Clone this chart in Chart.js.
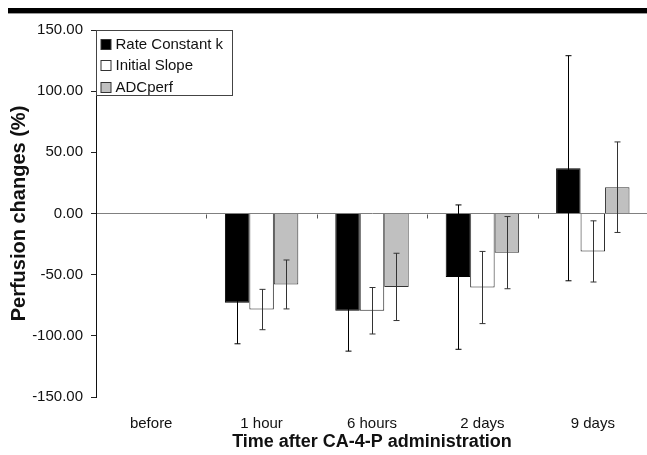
<!DOCTYPE html>
<html>
<head>
<meta charset="utf-8">
<script src="https://cdn.jsdelivr.net/npm/chart.js@4"></script>
<style>
  html, body { margin: 0; padding: 0; background: #fff; overflow: hidden; }
  #wrap { position: relative; width: 647px; height: 455px; overflow: hidden; }
  #band { position: absolute; left: 8px; top: 8px; width: 645px; height: 5px; background: #000; border-bottom: 1px solid #999; }
  canvas { position: absolute; left: 0; top: 0; }
</style>
</head>
<body>
<div id="wrap">
  <canvas id="chart" width="650" height="455"></canvas>
  <div id="band"></div>
</div>
<script>
// categories and series (perfusion change, %)
const categories = ['before', '1 hour', '6 hours', '2 days', '9 days'];
const rateK = [null, -73, -79.5, -52, 37];
const rateKErr = [null, 33.5, 33, 59, 92];
const slope = [null, -78.5, -79.5, -60.5, -31];
const slopeErr = [null, 16.5, 19, 29.5, 25];
const adc = [null, -58, -60, -32, 21.5];
const adcErr = [null, 20, 27.5, 29.5, 37];
const yTicks = [-150, -100, -50, 0, 50, 100, 150];

const FONT = 'Liberation Sans, Arial, sans-serif';

// error bars drawn on top of each bar
const errorBars = {
  id: 'errorBars',
  afterDatasetsDraw(chart) {
    const ctx = chart.ctx;
    const y = chart.scales.y;
    ctx.save();
    ctx.lineWidth = 1;
    chart.data.datasets.forEach((ds, i) => {
      const meta = chart.getDatasetMeta(i);
      ctx.strokeStyle = ds.errorColor || '#333';
      meta.data.forEach((bar, j) => {
        const v = ds.data[j], e = ds.errors[j];
        if (v == null || e == null) return;
        const x = Math.round(bar.x) + 0.5;
        const top = y.getPixelForValue(v + e);
        const bot = y.getPixelForValue(v - e);
        ctx.beginPath();
        ctx.moveTo(x, top); ctx.lineTo(x, bot);
        ctx.moveTo(x - 3, top); ctx.lineTo(x + 3, top);
        ctx.moveTo(x - 3, bot); ctx.lineTo(x + 3, bot);
        ctx.stroke();
      });
    });
    ctx.restore();
  }
};

// small category ticks hanging off the zero line
const zeroTicks = {
  id: 'zeroTicks',
  afterDraw(chart) {
    const ctx = chart.ctx;
    const x = chart.scales.x, y = chart.scales.y;
    const y0 = Math.round(y.getPixelForValue(0)) + 0.5;
    const w = x.width / categories.length;
    ctx.save();
    ctx.strokeStyle = '#555';
    ctx.lineWidth = 1;
    for (let i = 1; i < categories.length; i++) {
      const px = Math.round(x.getPixelForValue(i) - w / 2) + 0.5;
      ctx.beginPath();
      ctx.moveTo(px, y0);
      ctx.lineTo(px, y0 + 4);
      ctx.stroke();
    }
    ctx.restore();
  }
};

// boxed legend in the top-left corner of the plot
const boxLegend = {
  id: 'boxLegend',
  afterDraw(chart) {
    const ctx = chart.ctx;
    const a = chart.chartArea;
    const left = Math.round(a.left) + 0.5, top = Math.round(a.top) + 0.5;
    ctx.save();
    ctx.fillStyle = '#fff';
    ctx.fillRect(left, top, 136, 65);
    ctx.strokeStyle = '#444';
    ctx.lineWidth = 1;
    ctx.strokeRect(left, top, 136, 65);
    ctx.font = '15px ' + FONT;
    ctx.textBaseline = 'middle';
    chart.data.datasets.forEach((ds, i) => {
      const cy = top + 13 + i * 21.5;
      ctx.fillStyle = ds.backgroundColor;
      ctx.fillRect(left + 4.5, Math.round(cy - 5) + 0.5, 10, 10);
      ctx.strokeStyle = '#333';
      ctx.strokeRect(left + 4.5, Math.round(cy - 5) + 0.5, 10, 10);
      ctx.fillStyle = '#111';
      ctx.fillText(ds.label, left + 19, cy + 1);
    });
    ctx.restore();
  }
};

new Chart(document.getElementById('chart').getContext('2d'), {
  type: 'bar',
  data: {
    labels: categories,
    datasets: [
      { label: 'Rate Constant k', data: rateK, errors: rateKErr, errorColor: '#000', backgroundColor: '#000', borderColor: '#000', borderWidth: 1 },
      { label: 'Initial Slope', data: slope, errors: slopeErr, backgroundColor: '#fff', borderColor: '#222', borderWidth: 1 },
      { label: 'ADCperf', data: adc, errors: adcErr, backgroundColor: '#c0c0c0', borderColor: '#333', borderWidth: 1 }
    ]
  },
  options: {
    responsive: false,
    animation: false,
    layout: { padding: { top: 30, right: 2, left: 0, bottom: 0 } },
    datasets: { bar: { categoryPercentage: 0.665, barPercentage: 1 } },
    plugins: { legend: { display: false }, tooltip: { enabled: false } },
    scales: {
      x: {
        grid: { display: false },
        border: { display: false },
        ticks: { color: '#111', font: { family: FONT, size: 15 }, padding: 10, maxRotation: 0 },
        title: { display: true, text: 'Time after CA-4-P administration', color: '#111',
                 font: { family: FONT, size: 18, weight: 'bold' }, padding: { top: 0, bottom: 2 } },
        afterFit(s) { s.height = 58; }
      },
      y: {
        min: -150, max: 150,
        afterBuildTicks(s) { s.ticks = yTicks.map(v => ({ value: v })); },
        grid: {
          color: c => (c.tick && c.tick.value === 0 ? '#808080' : 'rgba(0,0,0,0)'),
          tickColor: '#222', tickLength: 5, drawOnChartArea: true
        },
        border: { display: true, color: '#111', width: 1 },
        ticks: { color: '#111', font: { family: FONT, size: 15 }, padding: 8, callback: v => Number(v).toFixed(2) },
        title: { display: true, text: 'Perfusion changes (%)', color: '#111',
                 font: { family: FONT, size: 20, weight: 'bold' }, padding: { top: 7, bottom: 0 } },
        afterFit(s) { s.width = 96; }
      }
    }
  },
  plugins: [errorBars, zeroTicks, boxLegend]
});
</script>
</body>
</html>
